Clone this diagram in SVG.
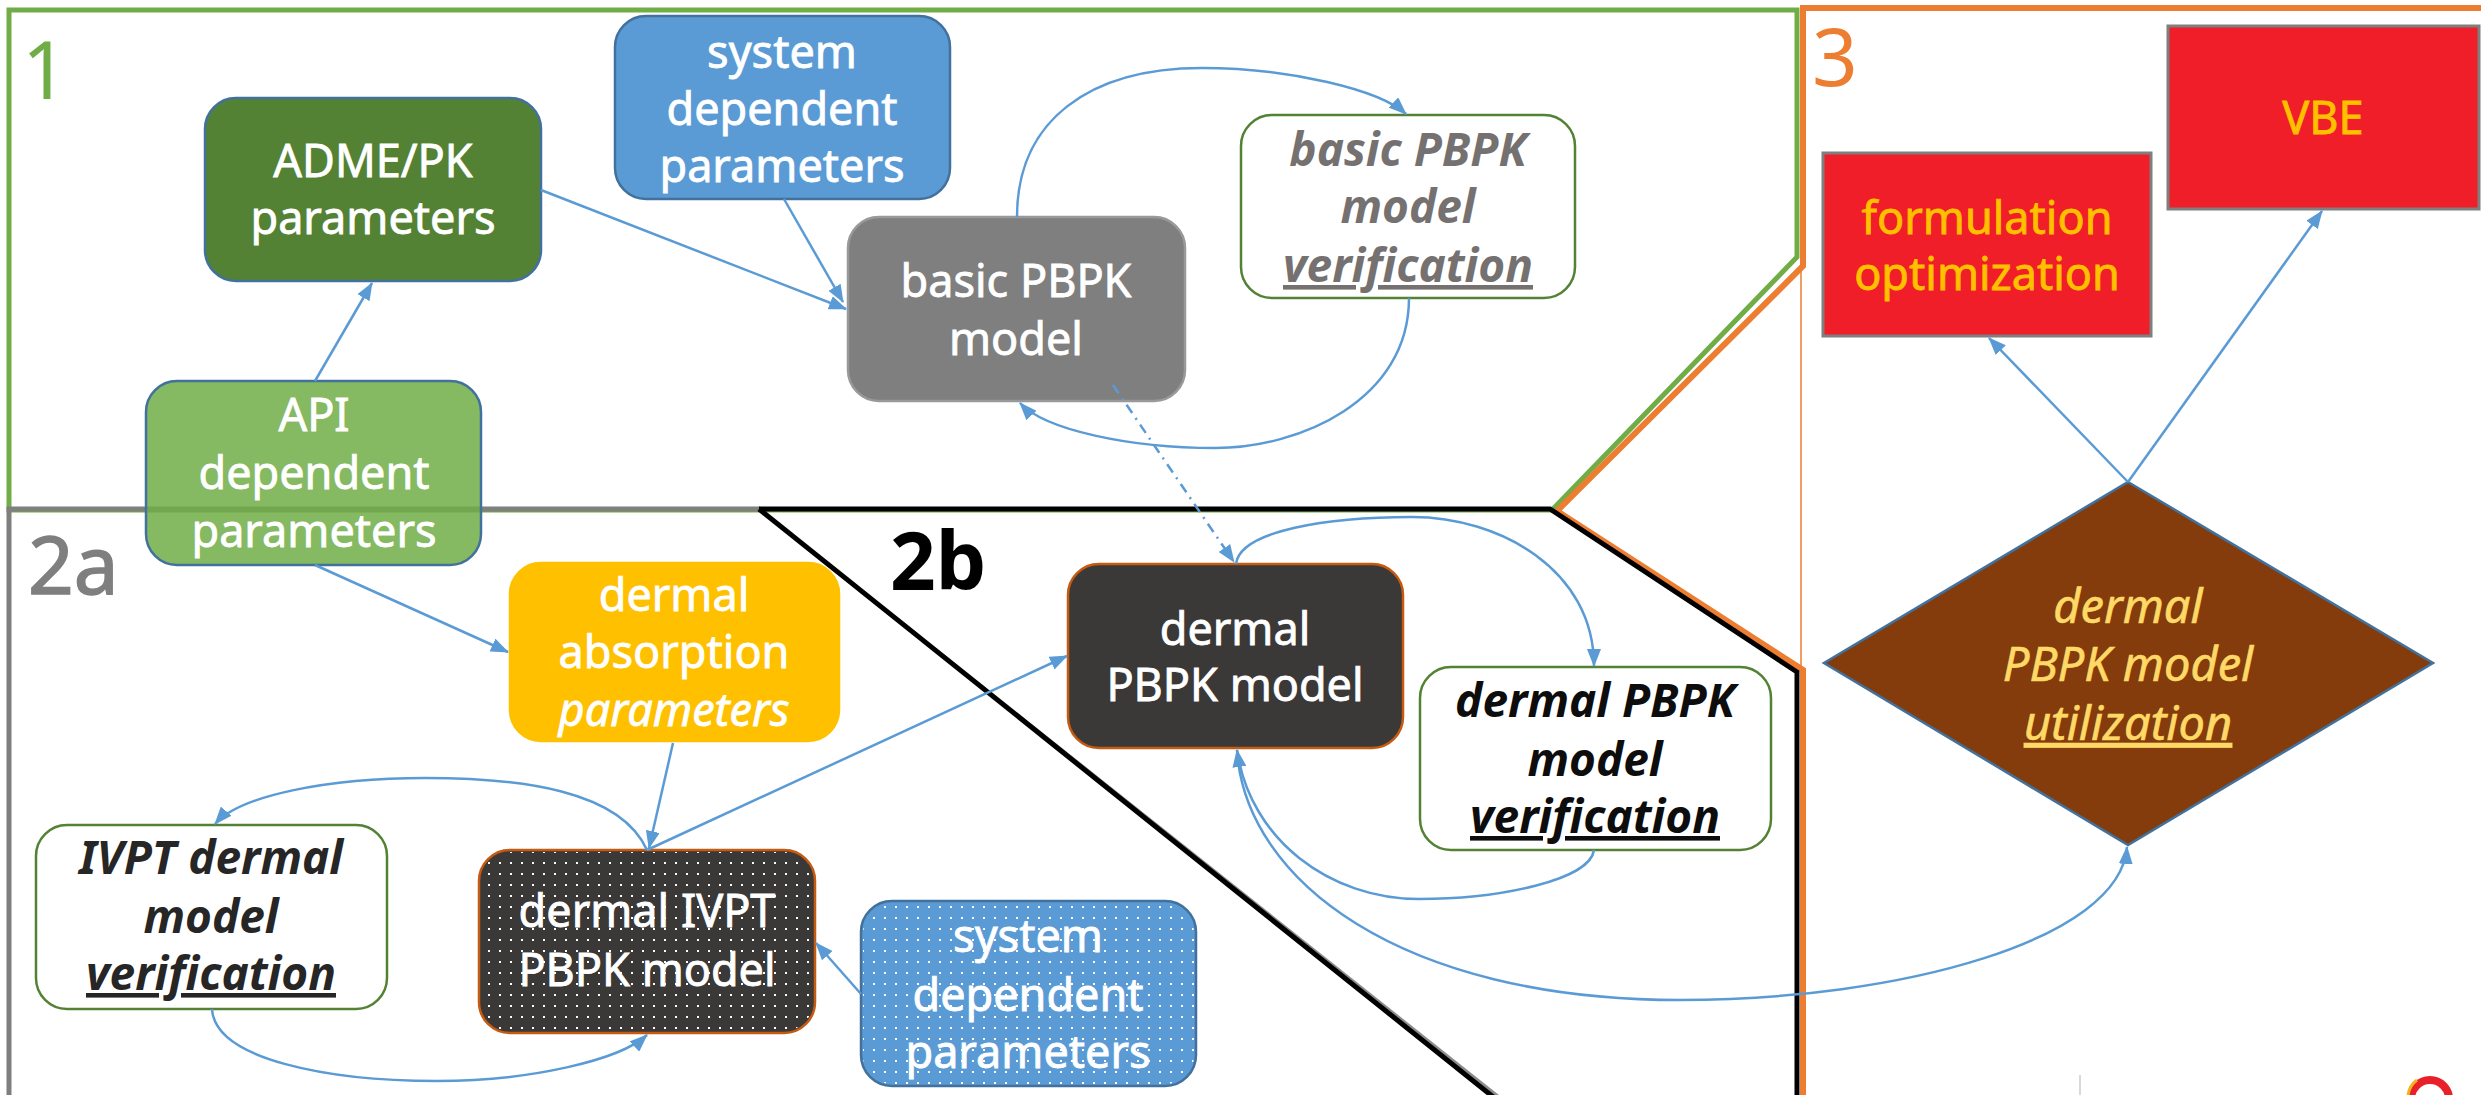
<svg xmlns="http://www.w3.org/2000/svg" width="2481" height="1095" viewBox="0 0 2481 1095">
<defs>
<style>
text { font-family: "Noto Sans", "Open Sans", sans-serif; font-size: 45px; text-anchor: middle; }
.w { fill: #ffffff; stroke: #ffffff; stroke-width: 0.8px; }
.lbl { font-size: 80px; text-anchor: start; }
.vb { font-weight: bold; font-style: italic; font-size: 46px; }
.it { font-style: italic; }
.dia { font-size: 47px; fill: #FFD966; stroke: #FFD966; stroke-width: 0.6px; }
.ul { text-decoration: underline; }
.edge { fill: none; stroke: #5B9BD5; stroke-width: 2.5; marker-end: url(#ah); }
.rr { stroke-width: 2.5; }
.ver { fill: #ffffff; stroke: #548235; stroke-width: 2.5; }
.red { fill: #F01E28; stroke: #7F7F7F; stroke-width: 3; }
.ytxt { fill: #FFC000; stroke: #FFC000; stroke-width: 0.8px; }
.dark { fill: #3B3838; stroke: #C55A11; stroke-width: 2.5; }
.blue { fill: #5B9BD5; stroke: #41719C; stroke-width: 2.5; }
</style>
<marker id="ah" markerUnits="userSpaceOnUse" markerWidth="18" markerHeight="14" refX="17" refY="7" orient="auto" viewBox="0 0 18 14"><path d="M0,0 L18,7 L0,14 z" fill="#5B9BD5"/></marker>
<pattern id="dots" patternUnits="userSpaceOnUse" width="11" height="11"><rect x="4" y="4" width="2" height="2" fill="#ffffff"/></pattern>
</defs>
<rect width="2481" height="1095" fill="#ffffff"/>

<g id="frames">
<polygon points="9,10 1797,10 1797,257 1552,510 9,510" fill="none" stroke="#70AD47" stroke-width="5"/>
<line x1="1801" y1="262" x2="1801" y2="672" stroke="#ED7D31" stroke-width="1.5"/>
<polyline points="2490,8 1803,8 1803,266 1557,511 1803,670 1803,1100" fill="none" stroke="#ED7D31" stroke-width="6"/>
<polyline points="9,1100 9,509 760,509" fill="none" stroke="#7F7F7F" stroke-width="5"/>
<line x1="763" y1="513" x2="1502" y2="1100" stroke="#8C8C8C" stroke-width="4"/>
<polyline points="759,509 1550,509 1797,672 1797,1100" fill="none" stroke="#000000" stroke-width="5"/>
<line x1="759" y1="509" x2="1497" y2="1100" stroke="#000000" stroke-width="5"/>
<text class="lbl" x="22" y="99" fill="#70AD47">1</text>
<text class="lbl" x="28" y="594" fill="#7F7F7F" stroke="#7F7F7F" stroke-width="1.5">2a</text>
<text class="lbl" x="890" y="590" font-weight="bold" fill="#000000">2b</text>
<text class="lbl" x="1812" y="86" fill="#ED7D31">3</text>
</g>

<g id="adme">
<rect x="205" y="98" width="336" height="183" rx="31" fill="#548235" stroke="#41719C" class="rr"/>
<text class="w" x="373" y="177">ADME/PK</text>
<text class="w" x="373" y="234">parameters</text>
</g>
<g id="api">
<rect x="146" y="381" width="335" height="184" rx="31" fill="#70AD47" fill-opacity="0.85" stroke="#41719C" class="rr"/>
<text class="w" x="314" y="431">API</text>
<text class="w" x="314" y="489">dependent</text>
<text class="w" x="314" y="547">parameters</text>
</g>
<g id="sysdep1">
<rect x="615" y="16" width="335" height="183" rx="31" class="blue"/>
<text class="w" x="782" y="68">system</text>
<text class="w" x="782" y="125">dependent</text>
<text class="w" x="782" y="182">parameters</text>
</g>
<g id="basic">
<rect x="848" y="217" width="337" height="184" rx="31" fill="#7F7F7F" stroke="#999999" class="rr"/>
<text class="w" x="1016" y="297">basic PBPK</text>
<text class="w" x="1016" y="355">model</text>
</g>
<g id="basicver">
<rect x="1241" y="115" width="334" height="183" rx="31" class="ver"/>
<text class="vb" fill="#757171" x="1408" y="166">basic PBPK</text>
<text class="vb" fill="#757171" x="1408" y="223">model</text>
<text class="vb ul" fill="#757171" x="1408" y="282">verification</text>
</g>
<g id="formulation">
<rect x="1823" y="153" width="328" height="183" class="red"/>
<text class="ytxt" x="1987" y="234">formulation</text>
<text class="ytxt" x="1987" y="290">optimization</text>
</g>
<g id="vbe">
<rect x="2168" y="26" width="311" height="183" class="red"/>
<text class="ytxt" x="2323" y="134">VBE</text>
</g>
<g id="dabs">
<rect x="510" y="563" width="329" height="178" rx="31" fill="#FFC000" stroke="#FFC000" class="rr"/>
<text class="w" x="674" y="611">dermal</text>
<text class="w" x="674" y="668">absorption</text>
<text class="w it" x="674" y="726">parameters</text>
</g>
<g id="ivptver">
<rect x="36" y="825" width="351" height="184" rx="31" class="ver"/>
<text class="vb" fill="#262626" x="211" y="874">IVPT dermal</text>
<text class="vb" fill="#262626" x="211" y="933">model</text>
<text class="vb ul" fill="#262626" x="211" y="990">verification</text>
</g>
<g id="divpt">
<rect x="479" y="850" width="336" height="183" rx="31" class="dark"/>
<rect x="481" y="852" width="332" height="179" rx="29" fill="url(#dots)"/>
<text class="w" x="647" y="927">dermal IVPT</text>
<text class="w" x="647" y="986">PBPK model</text>
</g>
<g id="sysdep2">
<rect x="861" y="901" width="335" height="185" rx="31" class="blue"/>
<rect x="863" y="903" width="331" height="181" rx="29" fill="url(#dots)"/>
<text class="w" x="1028" y="952">system</text>
<text class="w" x="1028" y="1011">dependent</text>
<text class="w" x="1028" y="1068">parameters</text>
</g>
<g id="dpbpk">
<rect x="1068" y="564" width="335" height="184" rx="31" class="dark"/>
<text class="w" x="1235" y="645">dermal</text>
<text class="w" x="1235" y="701">PBPK model</text>
</g>
<g id="dpbpkver">
<rect x="1420" y="667" width="351" height="183" rx="31" class="ver"/>
<text class="vb" fill="#0D0D0D" x="1595" y="717">dermal PBPK</text>
<text class="vb" fill="#0D0D0D" x="1595" y="776">model</text>
<text class="vb ul" fill="#0D0D0D" x="1595" y="833">verification</text>
</g>
<g id="utilization">
<polygon points="2128,482 2433,663 2128,845 1824,663" fill="#843C0C" stroke="#41719C" stroke-width="2.5"/>
<text class="it dia" x="2128" y="623">dermal</text>
<text class="it dia" x="2128" y="681">PBPK model</text>
<text class="it dia ul" x="2128" y="740">utilization</text>
</g>

<g id="connectors">
<path class="edge" d="M315,381 L372,283"/>
<path class="edge" d="M541,190 L846,309"/>
<path class="edge" d="M784,199 L843,302"/>
<path class="edge" d="M1017,217 C1017,120 1090,68 1202,68 C1290,68 1380,90 1406,114"/>
<path class="edge" d="M1409,298 C1409,400 1300,448 1215,448 C1130,448 1045,430 1020,403"/>
<path class="edge" d="M1113,385 L1234,562" stroke-dasharray="10 6 2 6"/>
<path class="edge" d="M315,565 L508,652"/>
<path class="edge" d="M673,743 L649,848"/>
<path class="edge" d="M861,994 L816,943"/>
<path class="edge" d="M647,850 L1067,656"/>
<path class="edge" d="M647,850 C620,790 520,778 425,778 C330,778 240,795 215,824"/>
<path class="edge" d="M212,1009 C215,1060 330,1081 437,1081 C530,1081 620,1060 647,1035"/>
<path class="edge" d="M1236,564 C1240,530 1330,517 1412,517 C1500,517 1594,570 1594,666"/>
<path class="edge" d="M1594,850 C1590,880 1500,899 1419,899 C1330,899 1250,840 1237,750"/>
<path class="edge" d="M1237,750 C1245,880 1400,1000 1680,1000 C1900,1000 2120,940 2127,847"/>
<path class="edge" d="M2128,482 L1989,338"/>
<path class="edge" d="M2128,482 L2322,211"/>
</g>

<line x1="2080" y1="1075" x2="2080" y2="1095" stroke="#D9D9D9" stroke-width="2"/>
<circle cx="2430" cy="1099" r="19" fill="none" stroke="#E8202A" stroke-width="8"/>
<path d="M2408,1096 A22,22 0 0 1 2417,1080" fill="none" stroke="#F5B31B" stroke-width="3"/>
</svg>
